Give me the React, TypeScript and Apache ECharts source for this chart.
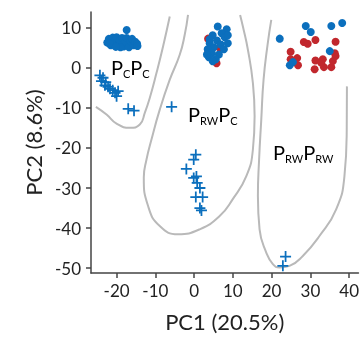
import React, { useEffect, useRef } from "react";
import * as echarts from "echarts";

const xTicks = [-20, -10, 0, 10, 20, 30, 40];
const yTicks = [-50, -40, -30, -20, -10, 0, 10];

const leftBlue: number[][] = [
  [-22.4, 6.3], [-22.0, 7.2], [-21.5, 5.6], [-21.0, 7.5], [-20.6, 6.4], [-20.0, 7.6],
  [-19.6, 5.5], [-19.2, 6.8], [-18.6, 7.4], [-18.2, 5.3], [-17.8, 6.3], [-17.4, 7.4],
  [-17.4, 9.4], [-16.8, 5.1], [-16.4, 6.6], [-16.0, 7.2], [-15.6, 5.6], [-15.2, 6.5],
  [-14.7, 6.0], [-14.6, 5.4], [-19.0, 5.1], [-21.8, 6.0], [-20.2, 5.2],
];

const midBlue: number[][] = [
  [6.1, 10.3], [8.4, 9.6], [7.1, 8.6], [4.8, 8.1], [7.9, 7.6], [5.9, 6.8], [4.0, 6.1],
  [6.9, 5.8], [8.7, 6.1], [5.1, 5.1], [3.5, 4.6], [7.7, 4.6], [4.6, 3.6], [6.4, 3.3],
  [3.8, 2.6], [5.6, 2.1], [4.8, 1.6], [3.3, 3.3], [8.7, 8.1], [4.0, 7.1],
];
const midRed: number[][] = [[3.6, 7.25], [6.6, 5.0], [3.6, 3.75], [5.8, 1.1]];

const rightBlue: number[][] = [
  [22.1, 7.25], [28.8, 10.4], [30.1, 8.9], [35.4, 10.4], [38.2, 11.15], [35.0, 4.15],
  [24.7, 0.6], [25.5, 1.4],
];
const rightRed: number[][] = [
  [28.3, 6.4], [29.3, 6.0], [31.3, 6.9], [36.5, 6.5], [24.9, 4.0], [24.9, 2.1], [26.6, 2.4],
  [26.8, 0.6], [31.3, 1.8], [33.2, 2.1], [33.5, 0.15], [35.4, 0.15], [31.1, -0.4],
  [35.8, 1.65], [36.5, 2.9], [36.3, 3.6], [32.8, 1.25],
];

const crossesA: number[][] = [
  [-24.3, -1.9], [-23.5, -2.5], [-23.9, -3.35], [-22.8, -3.6], [-23.0, -4.4], [-22.2, -4.75],
  [-21.7, -5.25], [-21.0, -5.6], [-20.4, -6.25], [-19.6, -5.85], [-20.0, -7.1],
  [-17.0, -10.25], [-15.5, -10.7],
];
const crossesB: number[][] = [
  [-5.8, -9.75], [0.44, -21.7], [-0.1, -22.9], [-2.0, -25.25], [0.6, -27.1], [-0.1, -27.5],
  [0.8, -28.75], [1.5, -30.0], [0.44, -32.25], [2.2, -32.25], [1.5, -35.0], [1.9, -35.6],
];
const crossesC: number[][] = [[23.6, -47.1], [22.9, -49.4]];

const contourPcPc: number[][] = [
  [-25.34, -9.78], [-22.59, -11.69], [-20.01, -13.93], [-16.59, -15.0], [-14.01, -14.18],
  [-12.72, -11.27], [-11.44, -7.54], [-9.71, -1.32], [-8.01, 5.3], [-6.28, 12.76],
];
const contourPrwPc: number[][] = [
  [-1.57, 13.18], [-2.42, 8.21], [-3.71, 3.23], [-6.28, -2.99], [-8.86, -10.45],
  [-11.0, -17.91], [-12.28, -22.89], [-12.98, -27.36], [-11.87, -34.5], [-8.86, -39.48],
  [-4.15, -41.54], [1.44, -40.3], [6.59, -36.99], [9.94, -32.84], [13.47, -27.04],
  [15.17, -20.4], [15.61, -12.11], [15.17, -3.81], [13.88, 4.48], [12.59, 10.27], [11.87, 13.18],
];
const contourPrwPrw: number[][] = [
  [19.91, 11.94], [18.95, 5.72], [17.92, -2.99], [17.33, -12.94], [16.77, -22.89],
  [16.46, -32.01], [16.89, -40.3], [18.62, -46.1], [20.32, -49.0], [22.04, -49.83],
  [24.62, -49.43], [28.05, -46.94], [32.34, -41.97], [36.65, -35.32], [38.79, -27.04],
  [39.38, -15.42], [39.43, -4.65],
];

const BLUE = "#0b6fbd";
const RED = "#c1272d";
const GRAY = "#b9b9b9";
const FONT = "Lato";
const CROSS = "path://M4.2,0h1.6v10h-1.6zM0,4.2h10v1.6h-10z";

const rich = {
  p: { fontSize: 20, fontFamily: FONT, color: "#111", lineHeight: 24 },
  s: { fontSize: 11, fontFamily: FONT, color: "#111", lineHeight: 13, verticalAlign: "bottom" },
};

export default function App() {
  const ref = useRef<HTMLDivElement>(null);
  useEffect(() => {
    const chart = echarts.init(ref.current!, null, { renderer: "svg" });
    const contour = (d: number[][]) => ({
      type: "line",
      data: d,
      smooth: true,
      showSymbol: false,
      silent: true,
      lineStyle: { color: GRAY, width: 2 },
      z: 1,
    });
    const circles = (d: number[][], color: string) => ({
      type: "scatter",
      data: d,
      symbol: "circle",
      symbolSize: 8,
      itemStyle: { color, opacity: 1 },
      z: 3,
    });
    const crosses = (d: number[][]) => ({
      type: "scatter",
      data: d,
      symbol: CROSS,
      symbolSize: 11,
      itemStyle: { color: BLUE, opacity: 1 },
      z: 2,
    });
    const axisCommon = {
      axisLine: { show: true, onZero: false, lineStyle: { color: "#444", width: 1.5 } },
      axisTick: { show: true, length: 5, lineStyle: { color: "#444", width: 1.5 } },
      splitLine: { show: false },
      nameLocation: "middle",
      nameTextStyle: { fontSize: 22, fontFamily: FONT, color: "#222" },
    };
    chart.setOption({
      animation: false,
      grid: { left: 91, right: 3, top: 12, bottom: 63 },
      xAxis: {
        type: "value",
        min: -26.6,
        max: 42.4,
        name: "PC1 (20.5%)",
        nameGap: 37,
        ...axisCommon,
        axisTick: { ...axisCommon.axisTick, customValues: xTicks },
        axisLabel: { customValues: xTicks, fontSize: 17, fontFamily: FONT, color: "#222", margin: 9 },
      },
      yAxis: {
        type: "value",
        min: -51.2,
        max: 13.9,
        name: "PC2 (8.6%)",
        nameGap: 47,
        nameRotate: 90,
        ...axisCommon,
        axisTick: { ...axisCommon.axisTick, customValues: yTicks },
        axisLabel: { customValues: yTicks, fontSize: 17, fontFamily: FONT, color: "#222", margin: 10 },
      },
      series: [
        contour(contourPcPc),
        contour(contourPrwPc),
        contour(contourPrwPrw),
        crosses(crossesA),
        crosses(crossesB),
        crosses(crossesC),
        circles(midRed, RED),
        circles(rightRed, RED),
        circles(leftBlue, BLUE),
        circles(midBlue, BLUE),
        circles(rightBlue, BLUE),
      ],
      graphic: [
        { type: "text", x: 111, y: 55, style: { text: "{p|P}{s|C}{p|P}{s|C}", rich } },
        { type: "text", x: 188, y: 102, style: { text: "{p|P}{s|RW}{p|P}{s|C}", rich } },
        { type: "text", x: 273, y: 140, style: { text: "{p|P}{s|RW}{p|P}{s|RW}", rich } },
      ],
    });
    return () => chart.dispose();
  }, []);
  return <div ref={ref} style={{ position: "fixed", left: 0, top: 0, width: 362, height: 337 }} />;
}
